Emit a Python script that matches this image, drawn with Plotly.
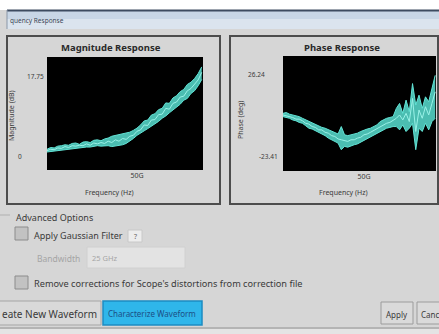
import plotly.graph_objects as go

W, H = 439, 334

# Frequency grid (GHz) and magnitude band (dB)
freq_mag = [0, 2, 4, 6, 8, 10, 12, 14, 16, 18, 20, 22, 24, 26, 28, 30, 32, 34, 36, 38, 40, 42,
            44, 46, 48, 50, 52, 54, 56, 58, 60, 62, 64, 66, 68, 70, 72, 74, 76, 78, 80, 82, 84, 86]
mag_upper = [1.5, 1.9, 1.8, 2.2, 2.3, 2.5, 2.4, 2.8, 2.9, 2.6, 3.1, 3.2, 3.0, 3.5, 3.6, 3.4, 3.8, 4.0,
             4.4, 4.6, 4.8, 4.9, 5.1, 5.3, 5.7, 6.2, 6.9, 7.8, 8.0, 9.1, 9.4, 10.3, 10.6, 11.8, 11.7,
             12.9, 13.4, 14.3, 14.8, 15.9, 16.4, 17.2, 18.3, 19.8]
mag_lower = [0.9, 1.0, 1.2, 1.2, 1.4, 1.5, 1.6, 1.6, 1.8, 1.8, 1.9, 2.0, 2.0, 2.1, 2.3, 2.2, 2.2, 2.3,
             2.1, 2.2, 2.4, 2.5, 2.8, 3.3, 3.9, 4.6, 5.2, 5.6, 6.1, 6.6, 7.2, 7.7, 8.4, 8.9, 9.6,
             10.2, 11.0, 11.5, 12.4, 12.8, 13.9, 14.5, 15.6, 17.0]
mag_mid = [1.2, 1.5, 1.4, 1.8, 1.7, 2.1, 1.9, 2.3, 2.2, 2.4, 2.3, 2.7, 2.4, 2.9, 2.7, 3.0, 2.8, 3.3,
           3.0, 3.6, 3.3, 3.9, 3.7, 4.4, 4.6, 5.5, 5.8, 6.9, 6.8, 8.0, 8.1, 9.2, 9.3, 10.6, 10.4,
           11.7, 12.0, 13.1, 13.3, 14.5, 15.0, 16.0, 16.9, 18.6]

# Frequency grid (GHz) and phase band (deg)
freq_phase = [0, 2, 4, 6, 8, 10, 12, 14, 16, 18, 20, 22, 24, 26, 28, 30, 32, 34, 36, 38, 40, 42, 44,
              46, 48, 50, 52, 54, 56, 58, 60, 62, 64, 66, 68, 70, 72, 74, 76, 78, 80, 82, 84, 86,
              88, 90, 92, 94]
phase_upper = [3, 3.5, 2.5, 2, 1.5, 1, 0, -1, -2, -3, -4, -5, -5.5, -6, -7, -8, -9, -9.5, -5, -10,
               -10.5, -10, -9.5, -9, -8, -7, -6.5, -6, -5, -4, -2, -1, 0, 0.5, 1, 6, 9, 3, 11, 4,
               21, 8, 14, 6, 13, 10, 18, 26]
phase_lower = [1, 0.5, 0, -1, -1.5, -2.5, -3, -4.5, -6, -6.5, -7.5, -9, -9.5, -10.5, -12, -13, -14,
               -15, -19, -17, -17.5, -16.5, -16, -15.5, -14.5, -13, -12, -11, -10, -9, -8, -7, -6,
               -5.5, -5, -5, -7, -4, -8, -6, -3, -19, -6, -8, -3, -7, -2, 0]
phase_mid = [2, 1.5, 1, 0.5, -0.5, -0.5, -1.5, -3, -3.5, -5, -5.5, -7, -7, -8.5, -9, -10.5, -11,
             -12.5, -13, -13.5, -14, -13, -13, -12, -11.5, -10, -9.5, -8.5, -7.5, -6.5, -5, -4, -3,
             -2.5, -1.5, 0, 2, -1, 3, -2, 12, -8, 5, 0, 7, 2, 9, 16]

mag_ticks = [0, 17.75]
phase_ticks = [-23.41, 26.24]
x_tick_ghz = [50]
x_tick_text = ["50G"]

BAND = "rgba(88,222,208,0.85)"
EDGE = "#62e4d6"
MID = "#9af2e8"
TXT = "#3a3a3a"
FONT = "Noto Sans"


def px(x):
    return x / W


def py(y):
    return 1 - y / H


fig = go.Figure()

for xaxis, yaxis, f, up, lo, mid in [("x", "y", freq_mag, mag_upper, mag_lower, mag_mid),
                                     ("x2", "y2", freq_phase, phase_upper, phase_lower, phase_mid)]:
    fig.add_trace(go.Scatter(x=f, y=lo, mode="lines", line=dict(color=EDGE, width=1),
                             xaxis=xaxis, yaxis=yaxis, showlegend=False, hoverinfo="skip"))
    fig.add_trace(go.Scatter(x=f, y=up, mode="lines", line=dict(color=EDGE, width=1),
                             fill="tonexty", fillcolor=BAND,
                             xaxis=xaxis, yaxis=yaxis, showlegend=False, hoverinfo="skip"))
    fig.add_trace(go.Scatter(x=f, y=mid, mode="lines", line=dict(color=MID, width=1),
                             xaxis=xaxis, yaxis=yaxis, showlegend=False, hoverinfo="skip"))

axis_common = dict(showgrid=False, zeroline=False, showline=False, ticks="")

fig.update_layout(
    width=W, height=H,
    margin=dict(l=0, r=0, t=0, b=0),
    paper_bgcolor="#d6d6d6",
    plot_bgcolor="black",
    font=dict(family=FONT, size=8, color=TXT),
    xaxis=dict(domain=[px(47), px(203)], range=[0, 86.7], tickvals=x_tick_ghz, ticktext=x_tick_text,
               tickfont=dict(size=7, color=TXT), **axis_common),
    yaxis=dict(domain=[py(170), py(57)], range=[-3.1, 22], showticklabels=False, **axis_common),
    xaxis2=dict(domain=[px(283), px(436)], range=[0, 94.5], tickvals=x_tick_ghz, ticktext=x_tick_text,
                tickfont=dict(size=7, color=TXT), anchor="y2", **axis_common),
    yaxis2=dict(domain=[py(171), py(56)], range=[-31.9, 37.7], showticklabels=False, anchor="x2",
                **axis_common),
)

shapes = []


def rect(x0, y0, x1, y1, fill="rgba(0,0,0,0)", line="rgba(0,0,0,0)", lw=1):
    shapes.append(dict(type="rect", xref="paper", yref="paper", x0=px(x0), x1=px(x1),
                       y0=py(y1), y1=py(y0), fillcolor=fill, line=dict(color=line, width=lw),
                       layer="below"))


# window chrome
rect(-2, -2, W + 2, 10, fill="white", lw=0)
rect(7, 10, W + 2, 19, fill="#c8d6e6", lw=0)
rect(7, 19, W + 2, 29, fill="#dbe4ee", lw=0)
shapes.append(dict(type="line", xref="paper", yref="paper", x0=px(7), x1=1, y0=py(10.5), y1=py(10.5),
                   line=dict(color="#3d4b60", width=2)))
shapes.append(dict(type="line", xref="paper", yref="paper", x0=px(7), x1=px(7), y0=py(10), y1=py(29),
                   line=dict(color="#8a97a8", width=1)))

# plot panels
rect(7, 36, 220, 204, line="#4d4d4d", lw=2)
rect(230, 36, 438, 204, line="#4d4d4d", lw=2)

# advanced options
shapes.append(dict(type="line", xref="paper", yref="paper", x0=0, x1=px(10), y0=py(215), y1=py(215),
                   line=dict(color="#b0b0b0", width=1)))
rect(15, 227, 28, 240, fill="#c2c2c2", line="#8c8c8c")
rect(128, 230, 142, 242, fill="#ededed", line="#c8c8c8")
rect(87, 247, 185, 268, fill="#e3e3e3", line="#d0d0d0")
rect(15, 276, 28, 289, fill="#c2c2c2", line="#8c8c8c")

# buttons
rect(-4, 301, 101, 325, fill="#d9d9d9", line="#a5a5a5")
rect(103, 301, 202, 325, fill="#2fb6ea", line="#1c8cc2", lw=1.5)
rect(381, 302, 413, 324, fill="#dadada", line="#9c9c9c")
rect(417, 302, W + 5, 324, fill="#dadada", line="#9c9c9c")
shapes.append(dict(type="line", xref="paper", yref="paper", x0=0, x1=1, y0=py(328), y1=py(328),
                   line=dict(color="#a9a9a9", width=1.5)))
rect(-2, 329, W + 2, H + 2, fill="#e4e4e4", lw=0)

fig.update_layout(shapes=shapes)

annotations = []


def label(text, x, y, size=8, color=TXT, anchor="left", bold=False, angle=0, yref="paper"):
    annotations.append(dict(text=f"<b>{text}</b>" if bold else text, x=px(x),
                            y=py(y) if yref == "paper" else y, xref="paper", yref=yref,
                            xanchor=anchor, yanchor="middle", showarrow=False, textangle=angle,
                            font=dict(size=size, color=color, family=FONT)))


label("quency Response", 8, 20, size=6.5, color="#3a4656")

# magnitude panel
label("Magnitude Response", 111, 47, size=9.5, anchor="center", bold=True, color="#2a2a2a")
label("Magnitude (dB)", 11, 116, size=7, anchor="center", angle=-90)
label("Frequency (Hz)", 109, 193, size=7, anchor="center")
label(f"{mag_ticks[1]:g}", 46, mag_ticks[1], size=6.5, anchor="right", yref="y")
label(f"{mag_ticks[0]:g}", 24, mag_ticks[0], size=6.5, anchor="right", yref="y")

# phase panel
label("Phase Response", 342, 47, size=9.5, anchor="center", bold=True, color="#2a2a2a")
label("Phase (deg)", 241, 120, size=7, anchor="center", angle=-90)
label("Frequency (Hz)", 343, 193, size=7, anchor="center")
annotations.append(dict(text=f"{phase_ticks[1]:g}", x=px(267), y=phase_ticks[1], xref="paper", yref="y2",
                        xanchor="right", yanchor="middle", showarrow=False,
                        font=dict(size=6.5, color=TXT, family=FONT)))
annotations.append(dict(text=f"{phase_ticks[0]:g}", x=px(280), y=phase_ticks[0], xref="paper", yref="y2",
                        xanchor="right", yanchor="middle", showarrow=False,
                        font=dict(size=6.5, color=TXT, family=FONT)))

# options
label("Advanced Options", 14, 217, size=9)
label("Apply Gaussian Filter", 32, 235, size=9)
label("?", 135, 236, size=7, anchor="center", color="#666666")
label("Bandwidth", 35, 258, size=8.5, color="#a5a5a5")
label("25 GHz", 90, 258, size=7.5, color="#a5a5a5")
label("Remove corrections for Scope's distortions from correction file", 32, 283, size=9.2)

label("eate New Waveform", 0, 314, size=10)
label("Characterize Waveform", 152, 313, size=8, anchor="center", color="#1b4f86")
label("Apply", 397, 314, size=8, anchor="center")
label("Canc", 419, 314, size=8)

fig.update_layout(annotations=annotations)

# drop the default page margin so the figure sits at the window's top-left corner
fig.write_html("out.html", config={"displayModeBar": False},
               post_script="document.body.style.margin='0';document.body.style.overflow='hidden';")
